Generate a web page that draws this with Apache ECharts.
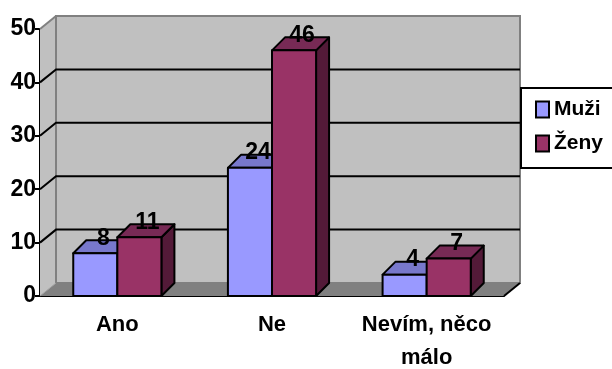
<!DOCTYPE html>
<html>
<head>
<meta charset="utf-8">
<script src="https://cdn.jsdelivr.net/npm/echarts@6/dist/echarts.min.js"></script>
<style>
  html, body { margin: 0; padding: 0; background: #fff; }
  #chart { width: 612px; height: 369px; }
</style>
</head>
<body>
<div id="chart"></div>
<script>
// data
var categories = ['Ano', 'Ne', 'Nevím, něco\nmálo'];
var muzi = [8, 24, 4];
var zeny = [11, 46, 7];
var yTicks = [0, 10, 20, 30, 40, 50];

var FONT = "'Liberation Sans', Arial, sans-serif";
var WALL_DX = 16, WALL_DY = -13;   // depth of the walls / floor
var BAR_DX = 13, BAR_DY = -13;     // depth of the bars
var BAR_RATIO = 0.285;             // bar width as part of a category

var myChart = echarts.init(document.getElementById('chart'));

// walls, floor and gridlines behind the bars
var renderBackdrop = function (params, api) {
    var bw = api.size([1, 0])[0];
    var left = api.coord([0, 0])[0] - bw / 2;
    var right = left + categories.length * bw;
    var y0 = api.coord([0, yTicks[0]])[1];
    var yTop = api.coord([0, yTicks[yTicks.length - 1]])[1];
    var children = [];

    // left wall
    children.push({
        type: 'polygon',
        shape: { points: [[left, y0], [left, yTop], [left + WALL_DX, yTop + WALL_DY], [left + WALL_DX, y0 + WALL_DY]] },
        style: { fill: '#c0c0c0', stroke: null }
    });
    // back wall
    children.push({
        type: 'rect',
        shape: { x: left + WALL_DX, y: yTop + WALL_DY, width: right - left, height: y0 - yTop },
        style: { fill: '#c0c0c0', stroke: '#808080', lineWidth: 2 }
    });
    // floor
    children.push({
        type: 'polygon',
        shape: { points: [[left, y0], [right, y0], [right + WALL_DX, y0 + WALL_DY], [left + WALL_DX, y0 + WALL_DY]] },
        style: { fill: '#808080', stroke: null }
    });
    // gray edges of the left wall
    children.push({
        type: 'polyline',
        shape: { points: [[left, yTop], [left + WALL_DX, yTop + WALL_DY]] },
        style: { stroke: '#808080', lineWidth: 2, fill: null }
    });
    children.push({
        type: 'polyline',
        shape: { points: [[left, y0], [left + WALL_DX, y0 + WALL_DY]] },
        style: { stroke: '#a0a0a0', lineWidth: 1, fill: null }
    });
    // gridlines
    for (var i = 1; i < yTicks.length - 1; i++) {
        var y = api.coord([0, yTicks[i]])[1];
        children.push({
            type: 'polyline',
            shape: { points: [[left, y], [left + WALL_DX, y + WALL_DY], [right + WALL_DX, y + WALL_DY]] },
            style: { stroke: '#000', lineWidth: 2, fill: null }
        });
    }
    // right edge of the floor
    children.push({
        type: 'polyline',
        shape: { points: [[right, y0], [right + WALL_DX, y0 + WALL_DY]] },
        style: { stroke: '#000', lineWidth: 2, fill: null }
    });
    return { type: 'group', children: children };
};

var makeBar = function (side, colors) {
    return function (params, api) {
        var idx = api.value(0);
        var val = api.value(1);
        var bw = api.size([1, 0])[0];
        var barW = bw * BAR_RATIO;
        var top = api.coord([idx, val]);
        var base = api.coord([idx, 0]);
        var x1 = side < 0 ? top[0] - barW : top[0];
        var x2 = x1 + barW;
        var yT = top[1], yB = base[1];
        var line = { stroke: '#000', lineWidth: 2, lineJoin: 'round' };
        return {
            type: 'group',
            children: [
                {
                    type: 'polygon',
                    shape: { points: [[x2, yB], [x2, yT], [x2 + BAR_DX, yT + BAR_DY], [x2 + BAR_DX, yB + BAR_DY]] },
                    style: echarts.util.extend({ fill: colors[2] }, line)
                },
                {
                    type: 'polygon',
                    shape: { points: [[x1, yT], [x2, yT], [x2 + BAR_DX, yT + BAR_DY], [x1 + BAR_DX, yT + BAR_DY]] },
                    style: echarts.util.extend({ fill: colors[1] }, line)
                },
                {
                    type: 'rect',
                    shape: { x: x1, y: yT, width: barW, height: yB - yT },
                    style: echarts.util.extend({ fill: colors[0] }, line)
                },
                {
                    type: 'text',
                    x: (x1 + x2) / 2 + 8,
                    y: yT - 15,
                    z2: 10,
                    style: {
                        text: String(val),
                        fill: '#000',
                        font: 'bold 23px ' + FONT,
                        align: 'center',
                        verticalAlign: 'middle'
                    }
                }
            ]
        };
    };
};

var toData = function (arr) {
    return arr.map(function (v, i) { return [i, v]; });
};

var option = {
    animation: false,
    backgroundColor: '#fff',
    grid: { left: 40, right: 108, top: 29, bottom: 73, outerBoundsMode: 'none', containLabel: false },
    legend: {
        orient: 'vertical',
        left: 521,
        top: 88,
        padding: [11, 10, 14, 14],
        itemGap: 13,
        itemWidth: 13,
        itemHeight: 16,
        borderColor: '#000',
        borderWidth: 2,
        backgroundColor: '#fff',
        textStyle: { fontFamily: FONT, fontWeight: 'bold', fontSize: 21, color: '#000' },
        data: [
            { name: 'Muži', icon: 'rect', itemStyle: { color: '#9999ff', borderColor: '#000', borderWidth: 2 } },
            { name: 'Ženy', icon: 'rect', itemStyle: { color: '#993366', borderColor: '#000', borderWidth: 2 } }
        ]
    },
    xAxis: {
        type: 'category',
        data: categories,
        axisLine: { lineStyle: { color: '#000', width: 2 } },
        axisTick: { length: 7, lineStyle: { color: '#000', width: 2 } },
        axisLabel: {
            interval: 0,
            color: '#000',
            fontFamily: FONT,
            fontWeight: 'bold',
            fontSize: 22,
            lineHeight: 33,
            margin: 12
        },
        splitLine: { show: false }
    },
    yAxis: {
        type: 'value',
        min: 0,
        max: 50,
        interval: 10,
        axisLine: { show: true, lineStyle: { color: '#000', width: 2 } },
        axisTick: { show: true, length: 5, lineStyle: { color: '#000', width: 2 } },
        axisLabel: {
            color: '#000',
            fontFamily: FONT,
            fontWeight: 'bold',
            fontSize: 23,
            margin: 4
        },
        splitLine: { show: false }
    },
    series: [
        {
            name: 'backdrop',
            type: 'custom',
            z: 1,
            silent: true,
            renderItem: renderBackdrop,
            data: [[0, 0]]
        },
        {
            name: 'Muži',
            type: 'custom',
            z: 2,
            itemStyle: { color: '#9999ff' },
            renderItem: makeBar(-1, ['#9999ff', '#7878cc', '#4c4c80']),
            data: toData(muzi)
        },
        {
            name: 'Ženy',
            type: 'custom',
            z: 3,
            itemStyle: { color: '#993366' },
            renderItem: makeBar(1, ['#993366', '#772a55', '#531a38']),
            data: toData(zeny)
        }
    ]
};

myChart.setOption(option);
</script>
</body>
</html>
